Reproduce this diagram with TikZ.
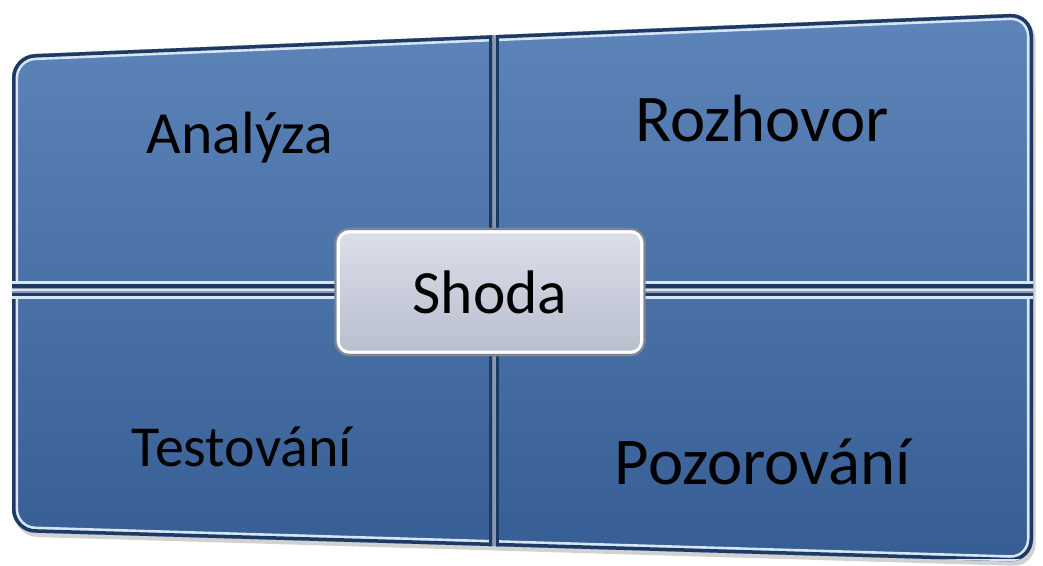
\documentclass[tikz,border=0pt]{standalone}
\usepackage{fontspec}
\setmainfont{Carlito}

\definecolor{panelTop}{HTML}{5D85B9}
\definecolor{panelBot}{HTML}{365E94}
\definecolor{panelEdge}{HTML}{1C3A63}
\definecolor{panelRim}{HTML}{D6E6F7}
\definecolor{gapFill}{HTML}{8A98AA}
\definecolor{boxTop}{HTML}{DCDFE9}
\definecolor{boxBot}{HTML}{B9BECE}
\definecolor{boxEdge}{HTML}{7E8494}

\begin{document}
\begin{tikzpicture}[
	x=0.02cm, y=-0.02cm,
	line cap=round,
	line join=round,
	panel outline/.style={insert path={[rounded corners=13pt] (12,55) -- (1033,13) -- (1033,562) -- (12,532) -- cycle}},
	quad text/.style={font=\fontsize{#1}{#1}\selectfont, anchor=base, inner sep=0pt},
	shoda box/.style={rounded corners=8pt, minimum width=176pt, minimum height=72pt,
		draw=boxEdge, line width=1.2pt, top color=boxTop, bottom color=boxBot,
		font=\fontsize{35}{35}\selectfont}
	]
	
	\useasboundingbox (0,0) rectangle (1043,565);
	
	% Shadow and gaps
	\fill[black, opacity=0.18, xshift=1.5pt, yshift=-2.5pt, panel outline];
	\fill[gapFill, panel outline];
	\draw[panelRim, line width=1pt, line cap=butt] (12,290) -- (1033,290);
	
	% Four panels
	\foreach \xa/\ya/\xb/\yb in {0/0/492/287, 496/0/1043/287, 0/293/492/565, 496/293/1043/565}
	{
		\begin{scope}
			\clip[panel outline];
			\clip (\xa,\ya) rectangle (\xb,\yb);
			\shade[top color=panelTop, bottom color=panelBot, panel outline];
			\draw[panelRim, line width=7pt, panel outline];
			\draw[panelEdge, line width=4pt, panel outline];
			\draw[panelRim, line width=6.5pt] (\xa,\ya) -- (\xb,\ya) (\xa,\yb) -- (\xb,\yb);
			\draw[panelEdge, line width=3.6pt] (\xa,\ya) rectangle (\xb,\yb);
		\end{scope}
	}
	
	% Labels
	\node[quad text=34] (analyza) at (240,153) {Analýza};
	\node[quad text=38] (rozhovor) at (762,141) {Rozhovor};
	\node[quad text=33] (testovani) at (242,466) {Testování};
	\node[quad text=38] (pozorovani) at (763,484) {Pozorování};
	
	% Centre box
	\node[shoda box] (shoda) at (490,292) {Shoda};
	\draw[white, line width=1.6pt, rounded corners=6pt] ([shift={(2.4pt,-2.4pt)}]shoda.north west) rectangle ([shift={(-2.4pt,2.4pt)}]shoda.south east);
	
\end{tikzpicture}
\end{document}
